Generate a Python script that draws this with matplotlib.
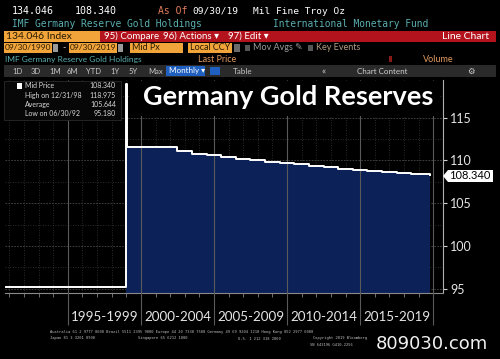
import matplotlib
matplotlib.use("Agg")
from matplotlib import pyplot as plt
from matplotlib.patches import Rectangle, Polygon
import matplotlib.dates as mdates
import pandas as pd

# gold holdings (Mil Fine Troy Oz)
dates = ['1990-09-30', '1992-03-31', '1992-06-30', '1998-11-30', '1998-12-31', '1999-01-31',
         '2001-06-30', '2002-06-30', '2003-06-30', '2004-06-30', '2005-06-30', '2006-06-30',
         '2007-06-30', '2008-06-30', '2009-06-30', '2010-06-30', '2011-06-30', '2012-06-30',
         '2013-06-30', '2014-06-30', '2015-06-30', '2016-06-30', '2017-06-30', '2018-06-30',
         '2019-09-30']
holdings = [95.25, 95.25, 95.18, 95.18, 118.975, 111.52,
            111.52, 111.13, 110.79, 110.58, 110.38, 110.21,
            110.04, 109.87, 109.72, 109.53, 109.35, 109.19,
            109.03, 108.90, 108.82, 108.70, 108.55, 108.43,
            108.34]
period_labels = ['1995-1999', '2000-2004', '2005-2009', '2010-2014', '2015-2019']
period_starts = [1995, 2000, 2005, 2010, 2015]
y_ticks = [95, 100, 105, 110, 115]
legend_rows = [('Mid Price', '108.340'), ('High on 12/31/98', '118.975'),
               ('Average', '105.644'), ('Low on 06/30/92', '95.180')]
toolbar = ['1D', '3D', '1M', '6M', 'YTD', '1Y', '5Y', 'Max']
toolbar_x = [12, 31, 49, 67, 86, 110, 129, 148]

dt = pd.to_datetime(dates)
W, H = 500, 359
ORANGE = '#f0a43a'
RED = '#b3131d'
TEAL = '#5aaeb0'
NAVY = '#0b2158'
SANS = ['Lato', 'DejaVu Sans']
MONO = 'DejaVu Sans Mono'

fig = plt.figure(figsize=(5, 3.59), dpi=100, facecolor='black')


def box(x0, y0, x1, y1, color, z=1, **kw):
    fig.patches.append(Rectangle((x0 / W, 1 - y1 / H), (x1 - x0) / W, (y1 - y0) / H,
                                 transform=fig.transFigure, facecolor=color, zorder=z, **kw))


def txt(x, y, s, color='white', size=6, family=SANS, **kw):
    fig.text(x / W, 1 - y / H, s, color=color, fontsize=size, family=family,
             va='center', zorder=5, **kw)


# ---- chart
ax = fig.add_axes([5 / W, 1 - 293 / H, 438 / W, 213 / H])
ax.set_facecolor('black')
ax.set_ylim(94.5, 119.4)
ax.set_xlim(pd.Timestamp('1990-09-15'), pd.Timestamp('2020-09-01'))

for y in [97.5, 102.5, 107.5, 112.5, 117.5]:
    ax.axhline(y, color='#3a3a3a', lw=0.6, ls=(0, (1, 2)), zorder=1)
for y in y_ticks:
    ax.axhline(y, color='#4a4a4a', lw=0.6, ls=(0, (2, 1.5)), zorder=1)
for yr in range(1991, 2020):
    ax.axvline(pd.Timestamp(f'{yr}-01-01'), color='#3a3a3a', lw=0.6, ls=(0, (1, 2)), zorder=1)

ax.fill_between(dt, holdings, 94.5, where=dt >= pd.Timestamp('1998-12-31'),
                step='post', color=NAVY, zorder=2, lw=0)
ax.step(dt, holdings, where='post', color='white', lw=1.4, zorder=4)

for yr in period_starts + [2020]:
    ax.vlines(pd.Timestamp(f'{yr}-01-01'), -0.15, 1, transform=ax.get_xaxis_transform(),
              color='#5a5a5a', lw=0.8, clip_on=False, zorder=3)
for lab, yr in zip(period_labels, period_starts):
    ax.text(pd.Timestamp(f'{yr + 2}-07-01'), -0.115, lab, transform=ax.get_xaxis_transform(),
            ha='center', va='center', color='#e6e6e6', fontsize=9.6, family='Lato')

ax.xaxis.set_major_locator(mdates.YearLocator())
ax.xaxis.set_major_formatter(plt.NullFormatter())
ax.tick_params(axis='x', colors='#808080', length=3, width=0.6)
ax.yaxis.tick_right()
ax.set_yticks(y_ticks)
ax.tick_params(axis='y', colors='#d0d0d0', labelcolor='#e6e6e6', labelsize=9, length=3, pad=2)
for lab in ax.get_yticklabels():
    lab.set_family('Lato')
for s in ['top', 'left']:
    ax.spines[s].set_visible(False)
ax.spines['right'].set_color('#b0b0b0')
ax.spines['bottom'].set_color('#8a8a8a')

# last price tag
fig.patches.append(Polygon([(443 / W, 1 - 176 / H), (448 / W, 1 - 170 / H), (493 / W, 1 - 170 / H),
                            (493 / W, 1 - 182 / H), (448 / W, 1 - 182 / H)],
                           closed=True, transform=fig.transFigure, facecolor='white', zorder=3))
txt(470, 176, '108.340', color='black', size=8, ha='center')

# title and legend boxes
box(129, 81, 440, 116, 'black', z=2)
txt(143, 97, 'Germany Gold Reserves', size=19.5, weight='bold')
box(4, 81, 121, 120, '#070707', z=2, edgecolor='#2a2a2a', lw=0.6)
for i, (name, val) in enumerate(legend_rows):
    yy = 86 + i * 9.2
    txt(25, yy, name, color='#d8d8d8', size=5)
    txt(116, yy, val, color='#d8d8d8', size=5, ha='right')
box(17, 83, 22, 89, 'white', z=3)
fig.add_artist(plt.Line2D([12 / W, 12 / W], [1 - 84 / H, 1 - 116 / H], color='#555555', lw=0.6))

# ---- header
txt(12, 11, '134.046', size=7.2, family=MONO)
txt(75, 11, '108.340', size=7.2, family=MONO)
txt(158, 11, 'As Of', color='#e07a5a', size=7, family=MONO)
txt(192, 11, '09/30/19', size=6.8, family=MONO)
txt(253, 11, 'Mil Fine Troy Oz', size=6.8, family=MONO)
txt(12, 24, 'IMF Germany Reserve Gold Holdings', color=TEAL, size=6.9, family=MONO)
txt(273, 24, 'International Monetary Fund', color=TEAL, size=6.9, family=MONO)

box(4, 31, 100, 42, ORANGE)
txt(6, 36.5, '134.046 Index', color='#2a1a00', size=7.5)
box(100, 31, 496, 42, RED)
txt(104, 36.5, '95) Compare', size=7)
txt(163, 36.5, '96) Actions \u25be', size=7)
txt(228, 36.5, '97) Edit \u25be', size=7)
txt(489, 36.5, 'Line Chart', size=7.5, ha='right')

box(4, 43, 52, 53, ORANGE)
box(53, 44, 58, 52, '#9a9a9a')
txt(62, 48, '-', color='#d0d0d0', size=6.5)
box(69, 43, 117, 53, ORANGE)
box(118, 44, 123, 52, '#9a9a9a')
box(130, 43, 183, 53, ORANGE)
box(188, 43, 232, 53, ORANGE)
box(234, 44, 240, 52, '#6a6a6a')
txt(5, 48, '09/30/1990', color='#2a1a00', size=6)
txt(70, 48, '09/30/2019', color='#2a1a00', size=6)
txt(132, 48, 'Mid Px', color='#2a1a00', size=6.5)
txt(190, 48, 'Local CCY', color='#2a1a00', size=6.5)
box(245, 45, 250, 51, '#555555')
txt(253, 48, 'Mov Avgs \u270e', color='#9a9a9a', size=6.5)
box(308, 45, 313, 51, '#555555')
txt(316, 48, 'Key Events', color='#b09a80', size=6.5)

txt(5, 59.5, 'IMF Germany Reserve Gold Holdings', color=TEAL, size=6)
txt(198, 59.5, 'Last Price', color='#e09a60', size=6.5)
box(389, 56, 392, 62, '#8a1a1a')
txt(423, 59.5, 'Volume', color='#e09a60', size=6.5)

box(4, 65, 496, 77, '#2a2a2a')
for lab, x in zip(toolbar, toolbar_x):
    txt(x, 71, lab, color='#c8c8c8', size=5.5)
box(166, 66, 205, 76, '#1f5fbf')
txt(169, 71, 'Monthly \u25be', size=5.8)
box(210, 67, 220, 75, '#1f5fbf')
txt(233, 71, 'Table', color='#c8c8c8', size=5.8)
txt(322, 71, '\u00ab', color='#c8c8c8', size=7)
txt(357, 71, 'Chart Content', color='#d0d0d0', size=5.8)
txt(467, 71, '\u2699', color='#d0d0d0', size=6)

# ---- footer
FOOT = dict(color='#bdbdbd', size=2.7, family=MONO)
txt(50, 332, 'Australia 61 2 9777 8600 Brazil 5511 2395 9000 Europe 44 20 7330 7500 '
    'Germany 49 69 9204 1210 Hong Kong 852 2977 6000', **FOOT)
txt(50, 338.5, 'Japan 81 3 3201 8900', **FOOT)
txt(138, 338.5, 'Singapore 65 6212 1000', **FOOT)
txt(238, 338.5, 'U.S. 1 212 318 2000', **FOOT)
txt(313, 338.5, 'Copyright 2019 Bloomberg', **FOOT)
txt(310, 345, 'SN 643196 G410-2256', **FOOT)
txt(376, 344, '809030.com', size=13, family='DejaVu Sans', alpha=0.95)

fig.savefig('out.png', dpi=100, facecolor='black')
